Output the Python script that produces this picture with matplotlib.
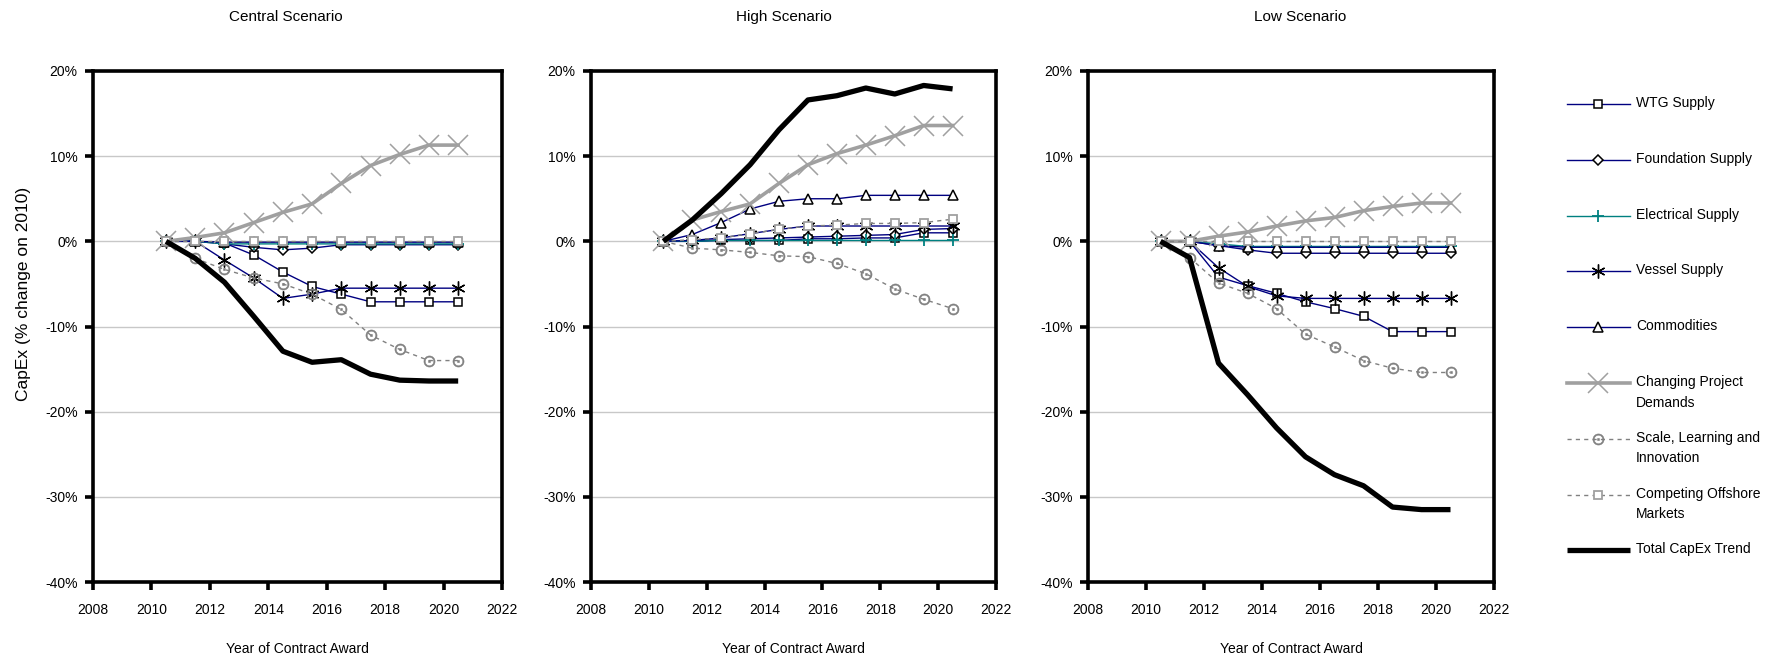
import numpy as np
import matplotlib.pyplot as plt
from matplotlib.lines import Line2D

plt.rcParams['font.family'] = ['Liberation Sans', 'DejaVu Sans']

# contract award years (markers sit mid-year)
years = [2010.5, 2011.5, 2012.5, 2013.5, 2014.5, 2015.5, 2016.5, 2017.5, 2018.5, 2019.5, 2020.5]

scenarios = ["Central Scenario", "High Scenario", "Low Scenario"]

series_names = ["WTG Supply", "Foundation Supply", "Electrical Supply", "Vessel Supply",
                "Commodities", "Changing Project\nDemands", "Scale, Learning and\nInnovation",
                "Competing Offshore\nMarkets", "Total CapEx Trend"]

# % change in CapEx on 2010 - central scenario
central_wtg = [0, 0, -0.2, -1.6, -3.6, -5.3, -6.2, -7.1, -7.1, -7.1, -7.1]
central_foundation = [0, 0, -0.3, -0.7, -1.0, -0.8, -0.4, -0.4, -0.4, -0.4, -0.4]
central_electrical = [0, 0, -0.3, -0.3, -0.3, -0.3, -0.3, -0.3, -0.3, -0.3, -0.3]
central_vessel = [0, 0, -2.2, -4.3, -6.7, -6.2, -5.5, -5.5, -5.5, -5.5, -5.5]
central_commodities = [0, 0, -0.1, -0.1, -0.1, -0.1, -0.1, -0.1, -0.1, -0.1, -0.1]
central_demands = [0, 0.45, 1.0, 2.2, 3.4, 4.4, 6.8, 8.9, 10.2, 11.3, 11.3]
central_scale = [0, -2.0, -3.3, -4.3, -5.0, -6.2, -8.0, -11.0, -12.7, -14.0, -14.0]
central_competing = [0, 0, 0, 0, 0, 0, 0, 0, 0, 0, 0]
central_total = [0, -2.0, -4.8, -8.8, -12.9, -14.2, -13.9, -15.6, -16.3, -16.4, -16.4]

# high scenario
high_wtg = [0, 0, 0.1, 0.1, 0.1, 0.3, 0.3, 0.4, 0.4, 1.0, 1.0]
high_foundation = [0, 0, 0.2, 0.3, 0.4, 0.5, 0.6, 0.7, 0.8, 1.4, 1.5]
high_electrical = [0, 0, 0.1, 0.1, 0.1, 0.1, 0.1, 0.1, 0.1, 0.1, 0.1]
high_vessel = [0, 0.1, 0.4, 0.9, 1.4, 1.8, 1.8, 1.8, 1.8, 1.8, 1.8]
high_commodities = [0, 0.8, 2.2, 3.8, 4.7, 5.0, 5.0, 5.4, 5.4, 5.4, 5.4]
high_demands = [0, 2.5, 3.5, 4.4, 6.8, 9.0, 10.3, 11.3, 12.4, 13.6, 13.6]
high_scale = [0, -0.8, -1.0, -1.3, -1.7, -1.8, -2.6, -3.8, -5.6, -6.8, -7.9]
high_competing = [0, 0.2, 0.4, 0.9, 1.4, 1.8, 1.9, 2.1, 2.1, 2.2, 2.6]
high_total = [0, 2.5, 5.6, 9.0, 13.1, 16.6, 17.1, 18.0, 17.3, 18.3, 17.9]

# low scenario
low_wtg = [0, 0, -4.2, -5.2, -6.1, -7.1, -7.9, -8.8, -10.6, -10.6, -10.6]
low_foundation = [0, 0, -0.5, -1.0, -1.4, -1.4, -1.4, -1.4, -1.4, -1.4, -1.4]
low_electrical = [0, 0, -0.3, -0.6, -0.6, -0.6, -0.6, -0.6, -0.6, -0.6, -0.6]
low_vessel = [0, 0, -3.1, -5.3, -6.4, -6.7, -6.7, -6.7, -6.7, -6.7, -6.7]
low_commodities = [0, 0, -0.5, -0.7, -0.7, -0.7, -0.7, -0.7, -0.7, -0.7, -0.7]
low_demands = [0, 0, 0.6, 1.1, 1.8, 2.4, 2.8, 3.6, 4.1, 4.5, 4.5]
low_scale = [0, -1.9, -4.9, -6.1, -7.9, -10.9, -12.4, -14.0, -14.9, -15.4, -15.4]
low_competing = [0, 0, 0, 0, 0, 0, 0, 0, 0, 0, 0]
low_total = [0, -1.9, -14.3, -18.0, -21.9, -25.3, -27.4, -28.7, -31.2, -31.5, -31.5]

data = [
    [central_wtg, central_foundation, central_electrical, central_vessel, central_commodities,
     central_demands, central_scale, central_competing, central_total],
    [high_wtg, high_foundation, high_electrical, high_vessel, high_commodities,
     high_demands, high_scale, high_competing, high_total],
    [low_wtg, low_foundation, low_electrical, low_vessel, low_commodities,
     low_demands, low_scale, low_competing, low_total],
]

NAVY = '#000080'
TEAL = '#008080'
GREY = '#a0a0a0'
DGREY = '#808080'

styles = [
    dict(color=NAVY, lw=1.0, marker='s', ms=6, mfc='white', mec='black', mew=1.1),
    dict(color=NAVY, lw=1.0, marker='D', ms=5, mfc='white', mec='black', mew=1.1),
    dict(color=TEAL, lw=1.0, marker='+', ms=8, mec=TEAL, mew=1.3),
    dict(color=NAVY, lw=1.0, marker=(6, 2, 0), ms=10, mec='black', mew=1.0),
    dict(color=NAVY, lw=1.0, marker='^', ms=7, mfc='white', mec='black', mew=1.1),
    dict(color=GREY, lw=2.6, marker='x', ms=15, mec=GREY, mew=1.1),
    dict(color=DGREY, lw=1.0, ls=(0, (3, 3)), marker='$\\odot$', ms=8, mec=DGREY, mfc=DGREY, mew=0.4),
    dict(color=DGREY, lw=1.0, ls=(0, (3, 3)), marker='s', ms=6, mfc='white', mec=GREY, mew=1.3),
    dict(color='black', lw=3.8, solid_joinstyle='round', solid_capstyle='butt'),
]

W, H = 1774, 662
fig = plt.figure(figsize=(W / 100, H / 100), dpi=100)

panels = [(93, 502), (591, 996), (1088, 1494)]
top, bottom = 71, 582
title_x = [286, 784, 1300]

for k, (left, right) in enumerate(panels):
    ax = fig.add_axes([left / W, 1 - bottom / H, (right - left) / W, (bottom - top) / H])
    for vals, st in zip(data[k], styles):
        ax.plot(years, vals, **st)

    ax.set_xlim(2008, 2022)
    ax.set_xticks(range(2008, 2023, 2))
    ax.set_ylim(-40, 20)
    ax.set_yticks(range(-40, 21, 10))
    ax.set_yticklabels([f"{t}%" for t in range(-40, 21, 10)])
    ax.yaxis.grid(True, color='#c8c8c8', lw=1.0)
    ax.set_axisbelow(True)
    for sp in ax.spines.values():
        sp.set_linewidth(2.6)
        sp.set_color('black')
    ax.tick_params(direction='out', length=6, width=2.6, labelsize=10, pad=5)
    ax.tick_params(axis='x', pad=9)

    fig.text(title_x[k] / W, 1 - 17 / H, scenarios[k], ha='center', va='center', fontsize=11)
    fig.text((left + right) / 2 / W, 1 - 649 / H, "Year of Contract Award",
             ha='center', va='center', fontsize=10)

fig.text(24 / W, 1 - 294 / H, "CapEx (% change on 2010)", rotation=90,
         ha='center', va='center', fontsize=12.5)

# legend drawn to the right of the panels
x0, x1, xt = 1567, 1630, 1636
for i, (name, st) in enumerate(zip(series_names, styles)):
    y = 1 - (104 + 55.8 * i) / H
    line_kw = {k: v for k, v in st.items() if k in ('color', 'lw', 'ls', 'solid_capstyle')}
    fig.add_artist(Line2D([x0 / W, x1 / W], [y, y], transform=fig.transFigure, **line_kw))
    if 'marker' in st:
        mk = {k: v for k, v in st.items() if k in ('marker', 'ms', 'mfc', 'mec', 'mew')}
        fig.add_artist(Line2D([(x0 + x1) / 2 / W], [y], transform=fig.transFigure, ls='none', **mk))
    fig.text(xt / W, y + 8 / H, name, ha='left', va='top', fontsize=10, linespacing=1.6)

fig.savefig("out.png", dpi=100, facecolor='white')
